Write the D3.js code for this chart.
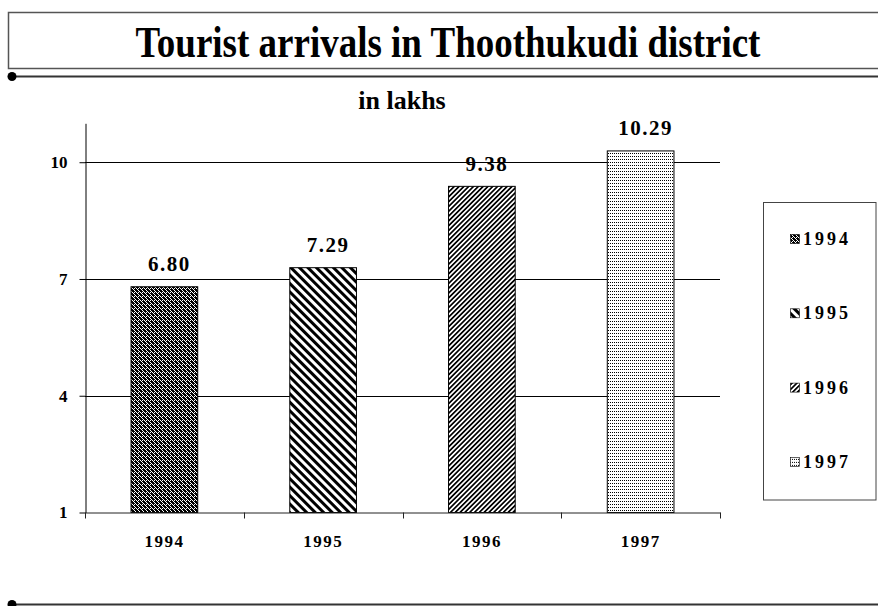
<!DOCTYPE html>
<html><head><meta charset="utf-8">
<script src="https://cdn.jsdelivr.net/npm/d3@7"></script>
<style>
html,body{margin:0;padding:0;background:#fff;}
svg{display:block;}
svg text{font-family:"Liberation Serif","Times New Roman",serif !important;font-weight:bold;}
</style></head>
<body><svg id="c" width="878" height="606"></svg>
<script>
const years = ["1994", "1995", "1996", "1997"];
const arrivals = [6.80, 7.29, 9.38, 10.29];
const valueLabels = ["6.80", "7.29", "9.38", "10.29"];
const yTicks = [1, 4, 7, 10];
const titleText = "Tourist arrivals in Thoothukudi district";
const subtitleText = "in lakhs";
const patternIds = ["p1994", "p1995", "p1996", "p1997"];
const FONT = "Liberation Serif, Times New Roman, serif";

const svg = d3.select("#c");
const defs = svg.append("defs");

// patterns
const p1 = defs.append("pattern").attr("id","p1994").attr("patternUnits","userSpaceOnUse").attr("width",4).attr("height",4);
p1.append("rect").attr("width",4).attr("height",4).attr("fill","#000");
[[0,0],[2,2],[1,1],[3,3],[2,0]].forEach(([a,b]) =>
  p1.append("rect").attr("x",a).attr("y",b).attr("width",1).attr("height",1).attr("fill","#fff"));
const p2 = defs.append("pattern").attr("id","p1995").attr("patternUnits","userSpaceOnUse").attr("width",6).attr("height",6).attr("patternTransform","rotate(45)");
p2.append("rect").attr("width",6).attr("height",6).attr("fill","#fff");
p2.append("rect").attr("width",6).attr("height",3).attr("fill","#000");
const p3 = defs.append("pattern").attr("id","p1996").attr("patternUnits","userSpaceOnUse").attr("width",3.4).attr("height",3.4).attr("patternTransform","rotate(-45)");
p3.append("rect").attr("width",3.4).attr("height",3.4).attr("fill","#fff");
p3.append("rect").attr("width",3.4).attr("height",1.7).attr("fill","#000");
const p4 = defs.append("pattern").attr("id","p1997").attr("patternUnits","userSpaceOnUse").attr("width",2).attr("height",3);
p4.append("rect").attr("width",2).attr("height",3).attr("fill","#fff");
p4.append("rect").attr("x",0).attr("y",0).attr("width",1).attr("height",1).attr("fill","#000");

// title box
svg.append("rect").attr("x",8.5).attr("y",12.5).attr("width",880).attr("height",56)
  .attr("fill","#fff").attr("stroke","#555").attr("stroke-width",1.5);
svg.append("text").attr("x",448).attr("y",0)
  .attr("transform","translate(0,57) scale(1,1.18)")
  .attr("text-anchor","middle").attr("font-size",37).attr("font-family",FONT).attr("fill","#000").text(titleText);

// separators
[76.5, 604.5].forEach(yy => {
  svg.append("line").attr("x1",12).attr("x2",878).attr("y1",yy).attr("y2",yy).attr("stroke","#333").attr("stroke-width",2);
  svg.append("circle").attr("cx",12).attr("cy",yy).attr("r",4.5).attr("fill","#000");
});

svg.append("text").attr("x",402).attr("y",109).attr("text-anchor","middle").attr("font-size",26)
  .attr("font-family",FONT).text(subtitleText);

// scales
const x = d3.scaleBand().domain(years).range([85, 720]).padding(0);
const y = d3.scaleLinear().domain([1, 11]).range([512.5, 123.3]);
const barW = x.bandwidth() * 0.42;

// gridlines
svg.append("g").selectAll("line").data(yTicks.filter(d => d > 1)).join("line")
  .attr("x1",85).attr("x2",720).attr("y1",d=>Math.round(y(d))+0.5).attr("y2",d=>Math.round(y(d))+0.5)
  .attr("stroke","#000").attr("stroke-width",1);

// bars
svg.append("g").selectAll("rect").data(years).join("rect")
  .attr("x",(d)=>x(d)+x.bandwidth()/2-barW/2)
  .attr("y",(d,i)=>y(arrivals[i]))
  .attr("width",barW)
  .attr("height",(d,i)=>y(1)-y(arrivals[i]))
  .attr("fill",(d,i)=>"url(#"+patternIds[i]+")")
  .attr("stroke","#000").attr("stroke-width",1);

// value labels
svg.append("g").selectAll("text").data(years).join("text")
  .attr("x",(d)=>x(d)+x.bandwidth()/2+5)
  .attr("y",(d,i)=>y(arrivals[i])-15.7)
  .attr("text-anchor","middle").attr("font-size",21).attr("letter-spacing",1.5).attr("font-family",FONT)
  .text((d,i)=>valueLabels[i]);

// y axis
const ya = svg.append("g").attr("transform","translate(85.5,0)")
  .call(d3.axisLeft(y).tickValues(yTicks).tickSize(6).tickSizeOuter(0).tickPadding(12).tickFormat(d3.format("d")));
ya.attr("font-family",FONT);
ya.selectAll("path,line").attr("stroke","#000");
ya.selectAll("text").attr("font-size",17).attr("font-weight","bold").attr("fill","#000");

// x axis
const xa = svg.append("g").attr("transform","translate(0,512.5)")
  .call(d3.axisBottom(x).tickSize(0).tickSizeOuter(0).tickPadding(22));
xa.attr("font-family",FONT);
xa.select("path").attr("stroke","#222");
xa.selectAll("text").attr("font-size",17).attr("letter-spacing",1.5).attr("font-weight","bold").attr("fill","#000");
const bounds = years.map(d => x(d)).concat([x(years[years.length-1]) + x.bandwidth()]);
xa.append("g").selectAll("line").data(bounds).join("line")
  .attr("x1",d=>Math.round(d)+0.5).attr("x2",d=>Math.round(d)+0.5).attr("y1",0).attr("y2",6).attr("stroke","#222");

// legend
svg.append("rect").attr("x",763.5).attr("y",202.5).attr("width",112.5).attr("height",297.5)
  .attr("fill","#fff").attr("stroke","#444").attr("stroke-width",1);
const lg = svg.append("g").selectAll("g").data(years).join("g")
  .attr("transform",(d,i)=>`translate(790,${245 + i*74.3})`);
lg.append("rect").attr("x",0.5).attr("y",-10.5).attr("width",9).attr("height",9)
  .attr("fill",(d,i)=>"url(#"+patternIds[i]+")").attr("stroke","#000").attr("stroke-width",0.6);
lg.append("text").attr("x",13).attr("y",0).attr("font-size",18).attr("letter-spacing",3)
  .attr("font-family",FONT).text(d=>d);
</script></body></html>
